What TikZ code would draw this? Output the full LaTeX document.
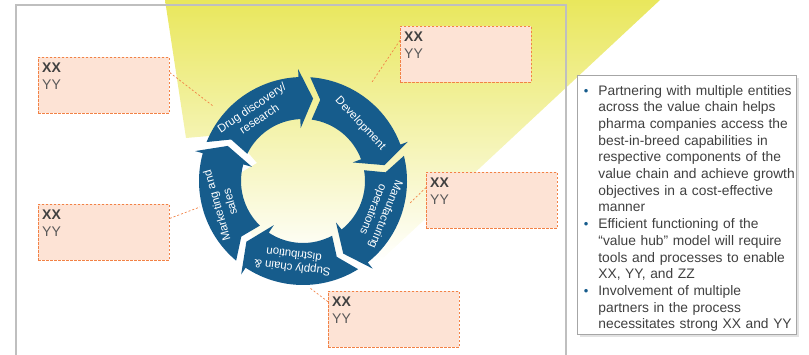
\documentclass[tikz,border=0pt]{standalone}
\usepackage{fontspec}
\setmainfont{Liberation Sans}
\usetikzlibrary{shadows}

\definecolor{cycblue}{RGB}{22,92,140}
\definecolor{beamyellow}{RGB}{233,231,92}
\definecolor{beammid}{RGB}{246,244,190}
\definecolor{framegray}{RGB}{191,191,191}
\definecolor{boxfill}{RGB}{253,227,213}
\definecolor{boxline}{RGB}{242,130,70}
\definecolor{textgray}{RGB}{64,64,64}
\definecolor{yygray}{RGB}{89,89,89}

\tikzset{
  cyc/.style={fill=cycblue},
  cyclabel/.style={text=white, font=\fontsize{11.5}{13.5}\selectfont, align=center, inner sep=0pt},
  xybox/.style={draw=boxline, fill=boxfill, dash pattern=on 2.5pt off 1.5pt, line width=0.8pt,
    minimum width=131pt, minimum height=56pt, inner sep=0pt, anchor=north west},
  xytext/.style={anchor=north west, inner sep=0pt, align=left, text=textgray,
    font=\fontsize{14}{17}\selectfont},
  link/.style={draw=boxline, dash pattern=on 2pt off 2pt, line width=0.7pt},
  notes/.style={draw=gray!70, fill=white, line width=0.8pt, anchor=north west,
    drop shadow={shadow xshift=2.5pt, shadow yshift=-2.5pt, fill=gray!45},
    text width=217pt, inner xsep=1pt, inner ysep=3pt, minimum height=258pt,
    text=textgray, font=\fontsize{13.8}{16.7}\selectfont}
}

\begin{document}
\begin{tikzpicture}[x=1pt,y=-1pt]
    \useasboundingbox (0,0) rectangle (809,355);

    % Light beam behind the cycle, fading out towards the bottom
    \shade [top color=beamyellow, middle color=beammid, bottom color=white]
      (165,0) -- (660,0) -- (379,262) -- (262,262) -- (235,192) -- (242,172)
      -- (257,163) -- (232,134) -- (186,138) -- cycle;

    % Slide frame
    \draw [framegray, line width=1.2pt] (16,5) rectangle (566,362);

    % The cycle:
    % five curved arrows, each one from the tip of the previous one to its own tip
    \begin{scope}[shift={(303,181)}]
    \foreach \tip in {-83,-11,61,133,205} {
      \pgfmathsetmacro{\arrtail}{\tip-72}
      \pgfmathsetmacro{\arrbase}{\tip-9.5}
      \fill [cyc] (\arrtail-3:104) arc [start angle=\arrtail-3, end angle=\arrbase, radius=104]
        -- (\arrbase:112) -- (\tip:83) -- (\arrbase:53) -- (\arrbase:62)
        arc [start angle=\arrbase, end angle=\arrtail+1, radius=62] -- (\arrtail+5:83) -- cycle;
    }

    % Labels follow the ring
    \node [cyclabel, rotate=34] (drug) at (-125:83) {Drug discovery/\\research};
    \node [cyclabel, rotate=-47] (dev) at (-45:81) {Development};
    \node [cyclabel, rotate=-112] (mfg) at (22:82) {Manufacturing\\operations};
    \node [cyclabel, rotate=-187] (supply) at (97:81) {Supply chain \&\\distribution};
    \node [cyclabel, rotate=-254] (mkt) at (164:83) {Marketing and\\sales};
    \end{scope}

    % Free ends of the callout lines, just outside the ring
    \coordinate (e1) at (213,106);
    \coordinate (e2) at (372,82);
    \coordinate (e3) at (410,203);
    \coordinate (e4) at (200,207);
    \coordinate (e5) at (310,288);

    % Callout boxes
    \foreach \n/\bx/\by in {1/38/57, 2/400/26, 3/426/172, 4/38/204, 5/328/291} {
      \node [xybox] (b\n) at (\bx,\by) {};
      \node [xytext] (t\n) at ([shift={(4pt,-6pt)}]b\n.north west) {\textbf{XX}\\\textcolor{yygray}{YY}};
    }
    \draw [link] (b1.11) -- (e1);
    \draw [link] (b2.168) -- (e2);
    \draw [link] (b3.169) -- (e3);
    \draw [link] (b4.12) -- (e4);
    \draw [link] (b5.165) -- (e5);

    % Side notes
    \node [notes] (notes) at (577,75) {%
      \begin{list}{\textcolor{cycblue}{\fontsize{13}{13}\selectfont\textbullet}}{%
        \setlength{\leftmargin}{20pt}\setlength{\labelsep}{10pt}%
        \setlength{\topsep}{0pt}\setlength{\partopsep}{0pt}%
        \setlength{\itemsep}{0pt}\setlength{\parsep}{0pt}}
      \item Partnering with multiple entities\\ across the value chain helps\\ pharma companies access the\\ best-in-breed capabilities in\\ respective components of the\\ value chain and achieve growth\\ objectives in a cost-effective\\ manner
      \item Efficient functioning of the\\ “value hub” model will require\\ tools and processes to enable\\ XX, YY, and ZZ
      \item Involvement of multiple\\ partners in the process\\ necessitates strong XX and YY
      \end{list}};
\end{tikzpicture}
\end{document}
